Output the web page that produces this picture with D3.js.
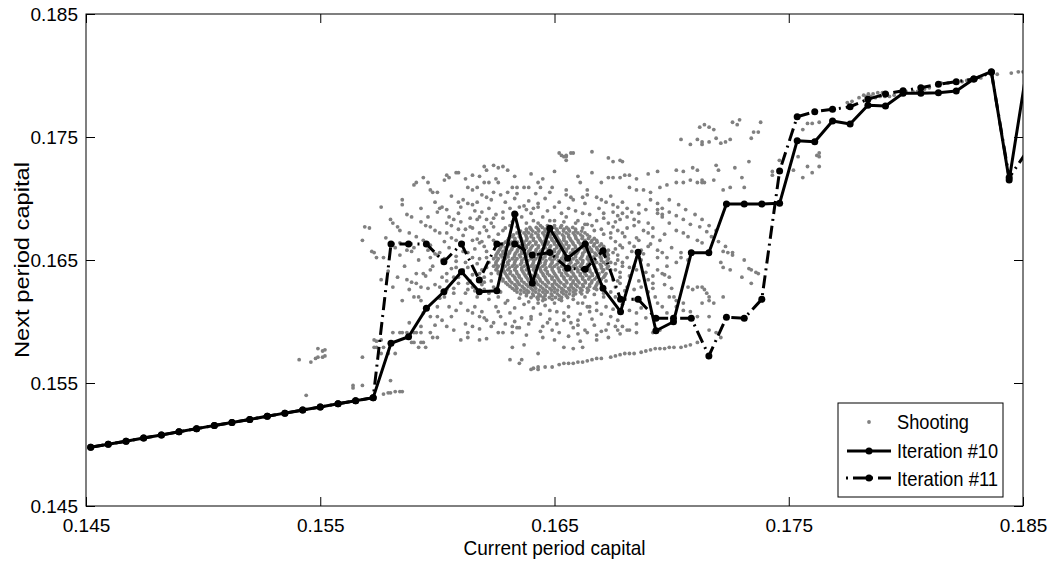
<!DOCTYPE html>
<meta charset="utf-8">
<style>
body { margin: 0; background: #fff; }
text { font-family: "Liberation Sans", Arial, Helvetica, sans-serif; fill: #000; }
</style>
<body>
<script src="https://d3js.org/d3.v7.min.js"></script>
<script>

// current period capital grid
var capital = [0.14520,0.14595,0.14671,0.14746,0.14822,0.14897,0.14972,0.15048,0.15123,0.15199,
  0.15274,0.15349,0.15425,0.15500,0.15576,0.15651,0.15726,0.15802,0.15877,0.15953,
  0.16028,0.16103,0.16179,0.16254,0.16330,0.16405,0.16480,0.16556,0.16631,0.16707,
  0.16782,0.16857,0.16933,0.17008,0.17084,0.17159,0.17234,0.17310,0.17385,0.17461,
  0.17536,0.17611,0.17687,0.17762,0.17838,0.17913,0.17988,0.18064,0.18139,0.18215,
  0.18290,0.18365,0.18441,0.18516];

// next period capital, iteration #10
var iter10 = [0.14977,0.15002,0.15027,0.15053,0.15078,0.15103,0.15129,0.15154,0.15179,0.15204,
  0.15230,0.15255,0.15280,0.15305,0.15331,0.15356,0.15381,0.15823,0.15876,0.16107,
  0.16242,0.16405,0.16242,0.16250,0.16874,0.16311,0.16758,0.16514,0.16630,0.16270,
  0.16080,0.16563,0.15925,0.15998,0.16559,0.16559,0.16955,0.16955,0.16955,0.16961,
  0.17470,0.17462,0.17630,0.17606,0.17758,0.17752,0.17855,0.17855,0.17860,0.17874,
  0.17972,0.18031,0.17150,0.18050];

// next period capital, iteration #11
var iter11 = [0.14977,0.15002,0.15027,0.15053,0.15078,0.15103,0.15129,0.15154,0.15179,0.15204,
  0.15230,0.15255,0.15280,0.15305,0.15331,0.15356,0.15381,0.16630,0.16630,0.16630,
  0.16486,0.16630,0.16337,0.16630,0.16630,0.16541,0.16560,0.16432,0.16424,0.16576,
  0.16181,0.16181,0.16026,0.16026,0.16026,0.15720,0.16034,0.16026,0.16181,0.17224,
  0.17665,0.17706,0.17725,0.17746,0.17807,0.17850,0.17876,0.17901,0.17928,0.17950,
  0.17971,0.18026,0.17170,0.17380];

var xTicks = [0.145, 0.155, 0.165, 0.175, 0.185];
var yTicks = [0.145, 0.155, 0.165, 0.175, 0.185];

// shooting: dense middle of the cloud, one row per next-period value
var coreRows = [
  [0.1678, [0.1644,0.1647,0.1650,0.1653]],
  [0.16765, [0.16395,0.16422,0.16448,0.16474,0.16500,0.16526,0.16552,0.16578]],
  [0.1675, [0.1638,0.1640,0.1643,0.1646,0.1648,0.1651,0.1654,0.1656,0.1659]],
  [0.16735, [0.16355,0.16381,0.16407,0.16433,0.16460,0.16486,0.16512,0.16538,0.16564,0.16590,0.16616]],
  [0.1672, [0.1634,0.1637,0.1639,0.1642,0.1645,0.1647,0.1650,0.1652,0.1655,0.1658,0.1660,0.1663]],
  [0.16705, [0.16325,0.16351,0.16377,0.16403,0.16430,0.16456,0.16482,0.16508,0.16534,0.16560,0.16586,0.16612,0.16640]],
  [0.1669, [0.1632,0.1635,0.1638,0.1640,0.1643,0.1646,0.1648,0.1651,0.1654,0.1656,0.1659,0.1662,0.1665]],
  [0.16675, [0.16305,0.16331,0.16357,0.16383,0.16410,0.16436,0.16462,0.16488,0.16514,0.16540,0.16566,0.16592,0.16618,0.16645,0.16670]],
  [0.1666, [0.1630,0.1633,0.1636,0.1638,0.1641,0.1644,0.1646,0.1649,0.1652,0.1654,0.1657,0.1660,0.1663,0.1666,0.1668]],
  [0.16645, [0.16290,0.16316,0.16342,0.16368,0.16395,0.16421,0.16447,0.16473,0.16499,0.16525,0.16551,0.16577,0.16603,0.16630,0.16656,0.16682]],
  [0.1663, [0.1628,0.1631,0.1634,0.1637,0.1639,0.1642,0.1645,0.1647,0.1650,0.1653,0.1655,0.1658,0.1661,0.1664,0.1667,0.1670]],
  [0.16615, [0.16275,0.16301,0.16327,0.16353,0.16380,0.16406,0.16432,0.16458,0.16484,0.16510,0.16536,0.16562,0.16588,0.16615,0.16641,0.16667,0.16693]],
  [0.1660, [0.1627,0.1629,0.1632,0.1635,0.1638,0.1640,0.1643,0.1646,0.1648,0.1651,0.1654,0.1656,0.1659,0.1662,0.1665,0.1668,0.1671]],
  [0.16585, [0.16265,0.16291,0.16317,0.16343,0.16370,0.16396,0.16422,0.16448,0.16474,0.16500,0.16526,0.16552,0.16578,0.16605,0.16631,0.16657,0.16683,0.16710]],
  [0.1657, [0.1626,0.1628,0.1631,0.1634,0.1636,0.1639,0.1642,0.1644,0.1647,0.1650,0.1652,0.1655,0.1658,0.1660,0.1663,0.1666,0.1669,0.1672]],
  [0.16555, [0.16255,0.16281,0.16307,0.16333,0.16360,0.16386,0.16412,0.16438,0.16464,0.16490,0.16516,0.16542,0.16568,0.16595,0.16621,0.16647,0.16673,0.16700,0.16725]],
  [0.1654, [0.1625,0.1627,0.1630,0.1633,0.1635,0.1638,0.1641,0.1643,0.1646,0.1649,0.1651,0.1654,0.1657,0.1659,0.1662,0.1665,0.1668,0.1671,0.1673]],
  [0.16525, [0.16250,0.16276,0.16302,0.16328,0.16355,0.16381,0.16407,0.16433,0.16459,0.16485,0.16511,0.16537,0.16563,0.16590,0.16616,0.16642,0.16668,0.16695,0.16720]],
  [0.1651, [0.1624,0.1626,0.1629,0.1632,0.1634,0.1637,0.1640,0.1642,0.1645,0.1648,0.1650,0.1653,0.1656,0.1658,0.1661,0.1664,0.1667,0.1670,0.1673]],
  [0.16495, [0.16255,0.16281,0.16307,0.16333,0.16360,0.16386,0.16412,0.16438,0.16464,0.16490,0.16516,0.16542,0.16568,0.16595,0.16621,0.16647,0.16673,0.16700,0.16725]],
  [0.1648, [0.1625,0.1628,0.1630,0.1633,0.1636,0.1638,0.1641,0.1644,0.1646,0.1649,0.1652,0.1654,0.1657,0.1660,0.1662,0.1665,0.1668,0.1671,0.1674]],
  [0.16465, [0.16250,0.16276,0.16302,0.16328,0.16355,0.16381,0.16407,0.16433,0.16459,0.16485,0.16511,0.16537,0.16563,0.16590,0.16616,0.16642,0.16668,0.16695,0.16720]],
  [0.1645, [0.1624,0.1626,0.1629,0.1632,0.1634,0.1637,0.1640,0.1642,0.1645,0.1648,0.1650,0.1653,0.1656,0.1658,0.1661,0.1664,0.1667,0.1670,0.1673]],
  [0.16435, [0.16255,0.16281,0.16307,0.16333,0.16360,0.16386,0.16412,0.16438,0.16464,0.16490,0.16516,0.16542,0.16568,0.16595,0.16621,0.16647,0.16673,0.16700,0.16725]],
  [0.1642, [0.1625,0.1628,0.1630,0.1633,0.1636,0.1638,0.1641,0.1644,0.1646,0.1649,0.1652,0.1654,0.1657,0.1660,0.1662,0.1665,0.1668,0.1671,0.1674]],
  [0.16405, [0.16260,0.16286,0.16312,0.16338,0.16365,0.16391,0.16417,0.16443,0.16469,0.16495,0.16521,0.16547,0.16573,0.16600,0.16626,0.16652,0.16678,0.16705]],
  [0.1639, [0.1626,0.1629,0.1631,0.1634,0.1637,0.1639,0.1642,0.1645,0.1647,0.1650,0.1653,0.1655,0.1658,0.1661,0.1663,0.1666,0.1669,0.1672]],
  [0.16375, [0.16270,0.16296,0.16322,0.16348,0.16375,0.16401,0.16427,0.16453,0.16479,0.16505,0.16531,0.16557,0.16583,0.16610,0.16636,0.16662,0.16688,0.16715]],
  [0.1636, [0.1627,0.1630,0.1633,0.1635,0.1638,0.1641,0.1643,0.1646,0.1649,0.1651,0.1654,0.1657,0.1659,0.1662,0.1665,0.1668,0.1671]],
  [0.16345, [0.16280,0.16306,0.16332,0.16358,0.16385,0.16411,0.16437,0.16463,0.16489,0.16515,0.16541,0.16567,0.16593,0.16620,0.16646,0.16672,0.16700]],
  [0.1633, [0.1628,0.1631,0.1634,0.1636,0.1639,0.1642,0.1644,0.1647,0.1650,0.1652,0.1655,0.1658,0.1660,0.1663,0.1666,0.1669,0.1672]],
  [0.16315, [0.16292,0.16318,0.16344,0.16370,0.16397,0.16423,0.16449,0.16475,0.16501,0.16527,0.16553,0.16579,0.16605,0.16632,0.16658,0.16684]],
  [0.1630, [0.1630,0.1633,0.1635,0.1638,0.1641,0.1643,0.1646,0.1649,0.1651,0.1654,0.1657,0.1659,0.1662,0.1665,0.1668,0.1670]],
  [0.16285, [0.16310,0.16336,0.16362,0.16388,0.16415,0.16441,0.16467,0.16493,0.16519,0.16545,0.16571,0.16597,0.16623,0.16650,0.16676]],
  [0.1627, [0.1632,0.1634,0.1637,0.1640,0.1642,0.1645,0.1648,0.1650,0.1653,0.1656,0.1658,0.1661,0.1664,0.1667]],
  [0.16255, [0.16330,0.16356,0.16382,0.16408,0.16435,0.16461,0.16487,0.16513,0.16539,0.16565,0.16591,0.16617,0.16645]],
  [0.1624, [0.1634,0.1637,0.1639,0.1642,0.1645,0.1647,0.1650,0.1653,0.1655,0.1658,0.1661,0.1664]],
  [0.16225, [0.16355,0.16381,0.16407,0.16433,0.16460,0.16486,0.16512,0.16538,0.16564,0.16590,0.16616]],
  [0.1621, [0.1638,0.1641,0.1644,0.1646,0.1649,0.1652,0.1655,0.1658]],
  [0.16195, [0.16400,0.16426,0.16452,0.16478,0.16504,0.16530,0.16556]],
  [0.1618, [0.1643,0.1646,0.1649,0.1652]]
];

// shooting: medium-density ring around the middle [current, next]
var haloPts = [
  [0.1606,0.1702],[0.1611,0.1699],[0.1617,0.1697],[0.1623,0.1699],[0.1629,0.1697],[0.1633,0.1700],
  [0.1639,0.1698],[0.1646,0.1700],[0.1652,0.1697],[0.1658,0.1699],[0.1663,0.1696],[0.1669,0.1692],
  [0.1675,0.1689],[0.1681,0.1692],[0.1686,0.1695],
  [0.1604,0.1691],[0.1609,0.1688],[0.1616,0.1690],[0.1622,0.1692],[0.1628,0.1689],[0.1634,0.1687],
  [0.1640,0.1688],[0.1647,0.1690],[0.1653,0.1688],[0.1659,0.1690],[0.1665,0.1687],[0.1671,0.1684],
  [0.1677,0.1686],[0.1683,0.1689],[0.1689,0.1691],
  [0.1610,0.1681],[0.1617,0.1683],[0.1623,0.1680],[0.1628,0.1684],[0.1632,0.1681],[0.1636,0.1685],
  [0.1641,0.1682],[0.1645,0.1685],[0.1650,0.1682],[0.1655,0.1685],[0.1660,0.1682],[0.1664,0.1679],
  [0.1668,0.1682],[0.1673,0.1680],[0.1678,0.1683],[0.1684,0.1678],[0.1690,0.1680],
  [0.1612,0.1675],[0.1618,0.1672],[0.1624,0.1677],[0.1628,0.1674],[0.1631,0.1678],[0.1662,0.1676],
  [0.1666,0.1678],[0.1670,0.1675],[0.1674,0.1672],[0.1680,0.1669],[0.1686,0.1666],
  [0.1606,0.1668],[0.1611,0.1670],[0.1617,0.1667],[0.1622,0.1669],[0.1605,0.1660],[0.1610,0.1662],
  [0.1616,0.1659],[0.1620,0.1661],[0.1603,0.1651],[0.1608,0.1653],[0.1612,0.1648],[0.1617,0.1647],
  [0.1621,0.1644],[0.1606,0.1643],[0.1610,0.1640],[0.1615,0.1638],[0.1620,0.1636],[0.1604,0.1633],
  [0.1609,0.1631],[0.1614,0.1633],[0.1619,0.1630],[0.1623,0.1633],[0.1612,0.1623],[0.1617,0.1620],
  [0.1622,0.1618],[0.1626,0.1620],[0.1598,0.1645],[0.1595,0.1637],[0.1599,0.1630],[0.1597,0.1662],
  [0.1592,0.1650],[0.1590,0.1660],[0.1586,0.1645],[0.1584,0.1664],
  [0.1676,0.1665],[0.1679,0.1660],[0.1677,0.1654],[0.1681,0.1652],[0.1676,0.1647],[0.1678,0.1640],
  [0.1682,0.1637],[0.1677,0.1633],[0.1680,0.1625],[0.1676,0.1620],[0.1687,0.1650],[0.1690,0.1646],
  [0.1689,0.1640],[0.1692,0.1637],[0.1687,0.1628],[0.1690,0.1624],[0.1693,0.1620],[0.1697,0.1630],
  [0.1700,0.1627],[0.1698,0.1645],[0.1702,0.1648],[0.1700,0.1660],[0.1704,0.1656],[0.1685,0.1668],
  [0.1691,0.1663],[0.1695,0.1666],
  [0.1625,0.1612],[0.1629,0.1615],[0.1633,0.1611],[0.1637,0.1614],[0.1641,0.1611],[0.1646,0.1613],
  [0.1650,0.1615],[0.1656,0.1612],[0.1660,0.1615],[0.1664,0.1612],[0.1668,0.1615],[0.1672,0.1612],
  [0.1627,0.1604],[0.1631,0.1607],[0.1636,0.1603],[0.1644,0.1606],[0.1648,0.1602],[0.1656,0.1604],
  [0.1661,0.1606],[0.1666,0.1602],[0.1670,0.1606],[0.1619,0.1608],[0.1623,0.1596],[0.1629,0.1598],
  [0.1634,0.1595],[0.1639,0.1598],[0.1645,0.1596],[0.1651,0.1598],[0.1658,0.1595],[0.1663,0.1593],
  [0.1667,0.1597],[0.1673,0.1598],[0.1638,0.1589],[0.1645,0.1587],[0.1650,0.1585],[0.1656,0.1588],
  [0.1661,0.1584],[0.1668,0.1585],[0.1673,0.1587],[0.1678,0.1590],[0.1685,0.1598],[0.1689,0.1603],
  [0.1612,0.1716],[0.1618,0.1718],[0.1625,0.1716],[0.1633,0.1718],[0.1640,0.1720],[0.1645,0.1716],
  [0.1650,0.1722],[0.1660,0.1718],[0.1666,0.1721],[0.1670,0.1713],[0.1685,0.1716],[0.1690,0.1720],
  [0.1578,0.1668],[0.1582,0.1660],[0.1579,0.1641],[0.1583,0.1636],[0.1588,0.1626],[0.1592,0.1620],
  [0.1596,0.1685],[0.1593,0.1692],[0.1599,0.1697],
  // just outside the dense middle
  [0.1619,0.1665],[0.1621,0.1657],[0.1618,0.1651],[0.1622,0.1648],[0.1619,0.1642],[0.1623,0.1639],
  [0.1620,0.1632],[0.1624,0.1628],[0.1627,0.1624],[0.1630,0.1617],[0.1635,0.1619],[0.1639,0.1616],
  [0.1643,0.1615],[0.1653,0.1617],[0.1658,0.1618],[0.1663,0.1620],[0.1667,0.1622],[0.1671,0.1620],
  [0.1674,0.1624],[0.1676,0.1628],[0.1675,0.1634],[0.1678,0.1636],[0.1676,0.1642],[0.1679,0.1645],
  [0.1677,0.1650],[0.1676,0.1659],[0.1678,0.1662],[0.1674,0.1668],[0.1671,0.1671],[0.1667,0.1674],
  [0.1663,0.1679],[0.1659,0.1680],[0.1654,0.1681],[0.1648,0.1682],[0.1643,0.1680],[0.1638,0.1680],
  [0.1634,0.1677],[0.1629,0.1676],[0.1626,0.1671],[0.1624,0.1666],
  [0.1611,0.1657],[0.1608,0.1649],[0.1613,0.1644],[0.1609,0.1636],[0.1616,0.1625],[0.1607,0.1627],
  [0.1603,0.1620],[0.1610,0.1615],[0.1616,0.1612],[0.1620,0.1603],[0.1626,0.1608],[0.1633,0.1600],
  [0.1640,0.1602],[0.1647,0.1599],[0.1654,0.1601],[0.1660,0.1601],[0.1665,0.1608],[0.1675,0.1610],
  [0.1679,0.1614],[0.1684,0.1618],[0.1686,0.1633],[0.1684,0.1645],[0.1688,0.1655],[0.1683,0.1657],
  [0.1690,0.1661],[0.1681,0.1676],[0.1676,0.1681],[0.1671,0.1688],[0.1662,0.1688],[0.1656,0.1692],
  [0.1650,0.1693],[0.1643,0.1696],[0.1637,0.1694],[0.1631,0.1692],[0.1625,0.1687],[0.1619,0.1689],
  [0.1614,0.1684],[0.1609,0.1675],[0.1604,0.1672],[0.1603,0.1665],[0.1599,0.1655],[0.1597,0.1642],
  [0.1602,0.1636],[0.1600,0.1612],[0.1606,0.1604],[0.1612,0.1598],[0.1618,0.1594],[0.1644,0.1592],
  [0.1660,0.1590],[0.1670,0.1592],[0.1676,0.1596],[0.1687,0.1611],[0.1692,0.1627],[0.1697,0.1638],
  [0.1694,0.1652],[0.1697,0.1671],[0.1692,0.1676],[0.1686,0.1688],[0.1679,0.1697],[0.1674,0.1702],
  [0.1664,0.1703],[0.1655,0.1703],[0.1642,0.1704],[0.1634,0.1704],[0.1619,0.1703],[0.1609,0.1697]
];

// shooting: the rest of the cloud [current, next]
var shootingPts = [
  // top of the cloud
  [0.1653,0.1735],[0.1655,0.1734],[0.1657,0.1737],[0.1666,0.1738],[0.1673,0.1733],[0.1675,0.1730],
  [0.1678,0.1731],[0.1679,0.1730],[0.1620,0.1726],[0.1621,0.1723],[0.1624,0.1727],[0.1626,0.1725],
  [0.1628,0.1726],[0.1630,0.1723],[0.1609,0.1721],[0.1615,0.1719],[0.1603,0.1715],[0.1652,0.1737],
  [0.1654,0.1734],[0.1655,0.1735],[0.1658,0.1737],[0.1655,0.1731],[0.1673,0.1717],[0.1675,0.1717],
  [0.1678,0.1717],[0.1680,0.1719],[0.1682,0.1719],[0.1694,0.1722],[0.1702,0.1723],[0.1705,0.1722],
  [0.1709,0.1725],[0.1711,0.1723],[0.1695,0.1709],[0.1698,0.1711],[0.1702,0.1713],[0.1705,0.1713],
  [0.1708,0.1715],[0.1711,0.1713],[0.1713,0.1713],
  // upper right group
  [0.1711,0.1748],[0.1713,0.1744],[0.1716,0.1746],[0.1719,0.1749],[0.1721,0.1745],[0.1712,0.1758],
  [0.1714,0.1760],[0.1716,0.1758],[0.1718,0.1756],[0.1726,0.1762],[0.1728,0.1760],[0.1729,0.1764],
  [0.1735,0.1754],[0.1737,0.1754],[0.1738,0.1762],[0.1713,0.1746],[0.1723,0.1746],[0.1725,0.1748],
  [0.1734,0.1749],[0.1708,0.1744],[0.1704,0.1748],
  // streaks on the right
  [0.1691,0.1699],[0.1694,0.1696],[0.1696,0.1692],[0.1699,0.1689],[0.1702,0.1686],[0.1705,0.1683],
  [0.1708,0.1679],[0.1712,0.1677],[0.1715,0.1673],[0.1717,0.1669],[0.1720,0.1665],[0.1723,0.1661],
  [0.1726,0.1656],[0.1699,0.1699],[0.1703,0.1695],[0.1706,0.1691],[0.1710,0.1687],[0.1713,0.1683],
  [0.1716,0.1678],[0.1719,0.1674],[0.1694,0.1691],[0.1696,0.1685],[0.1699,0.1680],
  [0.1722,0.1657],[0.1724,0.1656],[0.1726,0.1654],[0.1721,0.1648],[0.1722,0.1644],[0.1725,0.1642],
  [0.1731,0.1650],[0.1733,0.1643],[0.1734,0.1642],[0.1736,0.1640],[0.1737,0.1639],[0.1730,0.1636],
  [0.1734,0.1631],[0.1713,0.1628],[0.1714,0.1626],[0.1715,0.1623],[0.1716,0.1620],[0.1722,0.1620],
  [0.1727,0.1725],[0.1730,0.1717],[0.1731,0.1709],[0.1733,0.1730],[0.1719,0.1727],[0.1720,0.1723],
  [0.1713,0.1715],[0.1714,0.1713],[0.1718,0.1715],[0.1722,0.1707],[0.1725,0.1709],
  // lower right of the cloud
  [0.1701,0.1620],[0.1713,0.1615],[0.1707,0.1628],[0.1709,0.1626],[0.1702,0.1612],[0.1705,0.1609],
  [0.1708,0.1608],[0.1716,0.1593],[0.1719,0.1591],[0.1721,0.1587],[0.1711,0.1628],[0.1716,0.1617],
  [0.1718,0.1615],[0.1699,0.1620],[0.1702,0.1617],[0.1705,0.1615],[0.1698,0.1607],[0.1701,0.1604],
  [0.1711,0.1604],[0.1679,0.1596],[0.1682,0.1593],[0.1685,0.1591],[0.1692,0.1591],[0.1695,0.1593],
  [0.1716,0.1604],
  // lower band
  [0.1641,0.1562],[0.1643,0.1563],[0.1649,0.1563],[0.1654,0.1566],[0.1658,0.1566],[0.1662,0.1567],
  [0.1666,0.1569],[0.1670,0.1570],[0.1674,0.1571],[0.1678,0.1573],[0.1682,0.1574],[0.1687,0.1575],
  [0.1691,0.1577],[0.1695,0.1578],[0.1699,0.1579],[0.1704,0.1579],[0.1708,0.1581],[0.1711,0.1583],
  [0.1646,0.1563],[0.1652,0.1565],[0.1656,0.1566],[0.1660,0.1567],[0.1664,0.1568],[0.1668,0.1570],
  [0.1676,0.1572],[0.1680,0.1574],[0.1684,0.1574],[0.1689,0.1576],[0.1693,0.1578],[0.1697,0.1578],
  [0.1701,0.1579],[0.1706,0.1580],
  [0.1654,0.1579],[0.1658,0.1578],[0.1662,0.1579],[0.1664,0.1591],[0.1668,0.1589],[0.1672,0.1593],
  [0.1677,0.1593],[0.1681,0.1593],[0.1631,0.1569],[0.1635,0.1566],[0.1632,0.1579],[0.1637,0.1581],
  [0.1643,0.1574],
  // lower left of the cloud
  [0.1587,0.1634],[0.1589,0.1632],[0.1591,0.1631],[0.1593,0.1628],[0.1596,0.1627],[0.1590,0.1620],
  [0.1593,0.1617],[0.1594,0.1607],[0.1597,0.1604],[0.1600,0.1604],[0.1602,0.1601],[0.1604,0.1596],
  [0.1607,0.1593],[0.1610,0.1585],[0.1613,0.1587],[0.1618,0.1585],[0.1621,0.1586],[0.1605,0.1612],
  [0.1608,0.1609],[0.1613,0.1609],[0.1615,0.1607],[0.1618,0.1604],[0.1621,0.1601],[0.1624,0.1599],
  [0.1626,0.1591],[0.1628,0.1591],[0.1632,0.1591],[0.1632,0.1596],[0.1635,0.1595],[0.1615,0.1596],
  [0.1600,0.1587],[0.1593,0.1596],[0.1588,0.1599],[0.1596,0.1611],[0.1601,0.1619],[0.1607,0.1623],
  [0.1613,0.1626],[0.1585,0.1617],[0.1581,0.1628],[0.1576,0.1634],[0.1613,0.1591],[0.1636,0.1569],
  [0.1640,0.1561],[0.1643,0.1561],
  // left of the cloud
  [0.1576,0.1693],[0.1585,0.1699],[0.1585,0.1695],[0.1580,0.1683],[0.1581,0.1680],[0.1583,0.1677],
  [0.1584,0.1674],[0.1569,0.1677],[0.1571,0.1676],[0.1568,0.1666],[0.1573,0.1656],[0.1574,0.1652],
  [0.1572,0.1657],[0.1587,0.1687],[0.1589,0.1685],[0.1593,0.1681],[0.1595,0.1678],[0.1597,0.1677],
  [0.1599,0.1674],[0.1601,0.1672],[0.1588,0.1672],[0.1591,0.1669],[0.1594,0.1666],[0.1587,0.1658],
  [0.1589,0.1657],[0.1591,0.1639],[0.1594,0.1639],[0.1577,0.1652],[0.1584,0.1654],[0.1597,0.1652],
  [0.1600,0.1654],
  // upper left of the cloud
  [0.1590,0.1711],[0.1591,0.1713],[0.1594,0.1717],[0.1596,0.1713],[0.1597,0.1707],[0.1598,0.1705],
  [0.1600,0.1705],[0.1604,0.1719],[0.1605,0.1717],[0.1608,0.1721],[0.1601,0.1692],[0.1600,0.1689],
  [0.1602,0.1693],[0.1613,0.1709],[0.1615,0.1707],[0.1617,0.1709],[0.1620,0.1713],[0.1622,0.1713],
  [0.1626,0.1713],[0.1632,0.1709],[0.1634,0.1709],[0.1637,0.1709],[0.1639,0.1709],[0.1610,0.1693],
  [0.1613,0.1696],[0.1615,0.1695],[0.1621,0.1701],[0.1624,0.1705],[0.1627,0.1703],[0.1630,0.1705],
  [0.1605,0.1685],[0.1607,0.1683],[0.1618,0.1685],[0.1621,0.1683],[0.1624,0.1684],[0.1635,0.1693],
  [0.1638,0.1691],[0.1641,0.1692],[0.1643,0.1693],
  // right of the dense middle
  [0.1668,0.1701],[0.1670,0.1699],[0.1672,0.1697],[0.1675,0.1695],[0.1677,0.1693],[0.1679,0.1688],
  [0.1681,0.1685],[0.1684,0.1683],[0.1686,0.1681],[0.1688,0.1674],[0.1690,0.1672],[0.1692,0.1669],
  [0.1675,0.1677],[0.1677,0.1674],[0.1679,0.1672],[0.1682,0.1664],[0.1684,0.1661],[0.1687,0.1658],
  [0.1694,0.1658],[0.1696,0.1656],[0.1698,0.1652],[0.1671,0.1661],[0.1673,0.1658],[0.1675,0.1656],
  [0.1679,0.1648],[0.1682,0.1644],[0.1685,0.1642],[0.1694,0.1642],[0.1696,0.1639],[0.1699,0.1636],
  [0.1702,0.1674],[0.1705,0.1672],[0.1707,0.1669],[0.1711,0.1666],[0.1713,0.1664],[0.1704,0.1652],
  [0.1707,0.1650],[0.1690,0.1634],[0.1692,0.1631],[0.1678,0.1631],[0.1681,0.1628],[0.1684,0.1626],
  [0.1668,0.1626],[0.1671,0.1623],[0.1662,0.1615],[0.1665,0.1612],[0.1668,0.1609],[0.1674,0.1604],
  [0.1677,0.1601],[0.1648,0.1609],[0.1651,0.1608],[0.1654,0.1607],[0.1643,0.1620],[0.1645,0.1617],
  [0.1657,0.1599],[0.1660,0.1597],[0.1682,0.1609],[0.1685,0.1607],[0.1694,0.1615],[0.1696,0.1612],
  [0.1649,0.1593],[0.1652,0.1591],[0.1640,0.1604],[0.1662,0.1701],[0.1664,0.1707],[0.1661,0.1713],
  [0.1655,0.1707],[0.1657,0.1701],[0.1649,0.1709],[0.1648,0.1705],[0.1643,0.1713],[0.1644,0.1709],
  [0.1688,0.1707],[0.1691,0.1705],[0.1682,0.1709],[0.1685,0.1707],[0.1694,0.1688],[0.1696,0.1687],
  // left of the dense middle
  [0.1620,0.1677],[0.1621,0.1674],[0.1615,0.1666],[0.1618,0.1664],[0.1613,0.1656],[0.1615,0.1652],
  [0.1608,0.1644],[0.1611,0.1642],[0.1604,0.1639],[0.1607,0.1636],[0.1601,0.1628],[0.1604,0.1626],
  [0.1613,0.1631],[0.1615,0.1628],[0.1620,0.1626],[0.1622,0.1623],[0.1618,0.1639],[0.1621,0.1652],
  [0.1601,0.1656],[0.1602,0.1650],[0.1596,0.1658],[0.1608,0.1666],[0.1611,0.1664],[0.1604,0.1680],
  [0.1606,0.1678],[0.1614,0.1677],[0.1615,0.1676],
  // near the upper curve
  [0.1746,0.1731],[0.1743,0.1722],[0.1743,0.1719],[0.1752,0.1723],[0.1754,0.1734],[0.1756,0.1717],
  [0.1758,0.1726],[0.1760,0.1721],[0.1762,0.1735],[0.1763,0.1726],[0.1763,0.1737],[0.1756,0.1756],
  [0.1758,0.1761],[0.1760,0.1761],[0.1763,0.1762],[0.1763,0.1734],
  [0.1775,0.1778],[0.1777,0.1779],[0.1780,0.1782],[0.1783,0.1783],[0.1785,0.1783],[0.1787,0.1782],
  [0.1789,0.1783],[0.1791,0.1783],[0.1793,0.1783],[0.1795,0.1784],[0.1800,0.1787],[0.1803,0.1787],
  [0.1805,0.1787],[0.1808,0.1789],[0.1810,0.1790],[0.1815,0.1794],[0.1818,0.1794],[0.1821,0.1795],
  [0.1824,0.1795],[0.1826,0.1796],[0.1830,0.1797],[0.1832,0.1798],[0.1839,0.1801],[0.1845,0.1802],
  [0.1848,0.1803],[0.1850,0.1803],[0.1782,0.1784],[0.1784,0.1785],[0.1786,0.1785],[0.1788,0.1786],
  [0.1790,0.1786],
  // small group at the left
  [0.1541,0.1569],[0.1546,0.1567],[0.1548,0.1570],[0.1549,0.1571],[0.1551,0.1571],[0.1552,0.1572],
  [0.1549,0.1578],[0.1551,0.1576],[0.1552,0.1577],[0.1568,0.1571],[0.1544,0.1540],[0.1564,0.1548],
  [0.1564,0.1546],[0.1568,0.1548],[0.1580,0.1552],[0.1577,0.1541],[0.1579,0.1542],[0.1580,0.1542],
  [0.1582,0.1543],[0.1584,0.1543],[0.1585,0.1543],[0.1573,0.1585],[0.1574,0.1584],[0.1576,0.1585],
  [0.1573,0.1579],[0.1574,0.1579],[0.1577,0.1579],[0.1581,0.1591],[0.1584,0.1591],[0.1585,0.1591],
  [0.1587,0.1591],[0.1590,0.1591],[0.1591,0.1591],[0.1593,0.1591],[0.1589,0.1583],[0.1590,0.1583],
  [0.1593,0.1583],[0.1594,0.1583],[0.1592,0.1579],[0.1595,0.1579],[0.1598,0.1587],[0.1597,0.1591],
  [0.1599,0.1597],[0.1576,0.1574],[0.1579,0.1574],[0.1582,0.1574]
];

var shooting = [];
coreRows.forEach(function(r) {
  r[1].forEach(function(v) { shooting.push([v, r[0]]); });
});
shooting = shooting.concat(haloPts, shootingPts);

// set the dimensions and margins of the graph
var margin = {top: 14, right: 32, bottom: 65, left: 86},
    width = 1055 - margin.left - margin.right,
    height = 571 - margin.top - margin.bottom;

var x = d3.scaleLinear().domain([0.145, 0.185]).range([0, width]);
var y = d3.scaleLinear().domain([0.145, 0.185]).range([height, 0]);
var fmt = d3.format(".3f");

var svg = d3.select("body").append("svg")
    .attr("width", 1055)
    .attr("height", 571)
    .style("display", "block");

var g = svg.append("g")
    .attr("transform", "translate(" + margin.left + "," + margin.top + ")");

svg.append("defs").append("clipPath").attr("id", "plot")
  .append("rect").attr("width", width).attr("height", height);

var plot = g.append("g").attr("clip-path", "url(#plot)");

// shooting cloud
plot.selectAll(".shot")
    .data(shooting)
  .enter().append("circle")
    .attr("class", "shot")
    .attr("cx", function(d) { return x(d[0]); })
    .attr("cy", function(d) { return y(d[1]); })
    .attr("r", 1.9)
    .attr("fill", "#808080");

var line = d3.line()
    .x(function(d, i) { return x(capital[i]); })
    .y(function(d) { return y(d); });

// iteration #10 (solid)
plot.append("path")
    .datum(iter10)
    .attr("fill", "none")
    .attr("stroke", "#000")
    .attr("stroke-width", 3)
    .attr("stroke-linejoin", "round")
    .attr("d", line);
plot.selectAll(".m10")
    .data(iter10)
  .enter().append("circle")
    .attr("cx", function(d, i) { return x(capital[i]); })
    .attr("cy", function(d) { return y(d); })
    .attr("r", 3.5)
    .attr("fill", "#000");

// iteration #11 (dash-dot)
plot.append("path")
    .datum(iter11)
    .attr("fill", "none")
    .attr("stroke", "#000")
    .attr("stroke-width", 3)
    .attr("stroke-dasharray", "13,5,2,5")
    .attr("d", line);
plot.selectAll(".m11")
    .data(iter11)
  .enter().append("circle")
    .attr("cx", function(d, i) { return x(capital[i]); })
    .attr("cy", function(d) { return y(d); })
    .attr("r", 3.5)
    .attr("fill", "#000");

// axes, ticks pointing inward
var xAxis = g.append("g")
    .attr("transform", "translate(0," + height + ")")
    .call(d3.axisBottom(x).tickValues(xTicks).tickFormat(fmt).tickSize(-9).tickPadding(13));
var xTop = g.append("g")
    .call(d3.axisTop(x).tickValues(xTicks).tickFormat("").tickSize(-9));
var yAxis = g.append("g")
    .call(d3.axisLeft(y).tickValues(yTicks).tickFormat(fmt).tickSize(-9).tickPadding(8));
var yRight = g.append("g")
    .attr("transform", "translate(" + width + ",0)")
    .call(d3.axisRight(y).tickValues(yTicks).tickFormat("").tickSize(-9));

[xAxis, xTop, yAxis, yRight].forEach(function(a) {
  a.select(".domain").remove();
  a.selectAll("line").attr("stroke", "#000");
  a.selectAll("text").attr("font-size", 19).attr("fill", "#000")
    .attr("font-family", "Liberation Sans, Arial, sans-serif");
});

g.append("rect")
    .attr("width", width)
    .attr("height", height)
    .attr("fill", "none")
    .attr("stroke", "#000")
    .attr("stroke-width", 1);

// axis labels
svg.append("text")
    .attr("x", margin.left + width / 2)
    .attr("y", 555)
    .attr("text-anchor", "middle")
    .attr("font-size", 21)
    .attr("textLength", 182)
    .attr("lengthAdjust", "spacingAndGlyphs")
    .text("Current period capital");

svg.append("text")
    .attr("transform", "translate(29," + (margin.top + height / 2) + ") rotate(-90)")
    .attr("text-anchor", "middle")
    .attr("font-size", 20)
    .attr("textLength", 196)
    .attr("lengthAdjust", "spacingAndGlyphs")
    .text("Next period capital");

// legend
var legend = svg.append("g");
legend.append("rect")
    .attr("x", 838).attr("y", 403)
    .attr("width", 165).attr("height", 94)
    .attr("fill", "#fff")
    .attr("stroke", "#000");

legend.append("circle")
    .attr("cx", 869).attr("cy", 422).attr("r", 1.9).attr("fill", "#808080");
legend.append("line")
    .attr("x1", 847).attr("x2", 891).attr("y1", 451).attr("y2", 451)
    .attr("stroke", "#000").attr("stroke-width", 3);
legend.append("circle")
    .attr("cx", 869).attr("cy", 451).attr("r", 3.5).attr("fill", "#000");
legend.append("line")
    .attr("x1", 846).attr("x2", 892).attr("y1", 478).attr("y2", 478)
    .attr("stroke", "#000").attr("stroke-width", 3)
    .attr("stroke-dasharray", "2,5,13,5");
legend.append("circle")
    .attr("cx", 869).attr("cy", 478).attr("r", 3.5).attr("fill", "#000");

var legendItems = [["Shooting", 429, 72], ["Iteration #10", 458, 101], ["Iteration #11", 486, 101]];
legendItems.forEach(function(d) {
  legend.append("text")
      .attr("x", 897).attr("y", d[1])
      .attr("font-size", 21)
      .attr("textLength", d[2])
      .attr("lengthAdjust", "spacingAndGlyphs")
      .text(d[0]);
});

</script>
</body>
